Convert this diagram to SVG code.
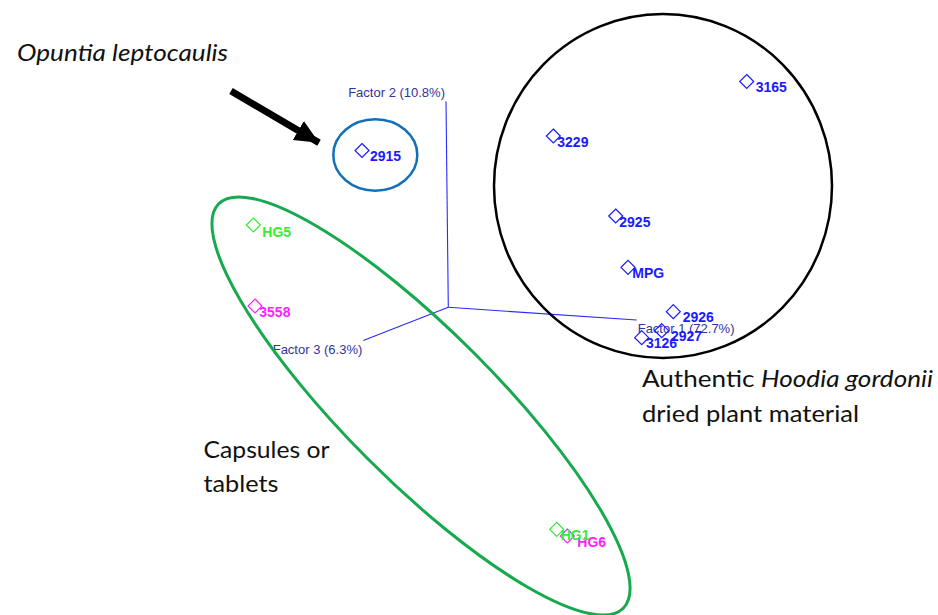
<svg xmlns="http://www.w3.org/2000/svg" xmlns:xlink="http://www.w3.org/1999/xlink" width="938" height="615" viewBox="0 0 938 615">
<style>
.big{font-family:Lato,"Liberation Sans",sans-serif;font-size:24px;fill:#111111}
.ax{font-family:"Liberation Sans",Arial,sans-serif;font-size:13px;fill:#333399}
.lab{font-family:"Liberation Sans",Arial,sans-serif;font-size:14px;font-weight:bold}
.axl{stroke:#2a2aff;stroke-width:1.1;fill:none}
.dm{fill:none;stroke-width:1.2}
.b{fill:#1a1aff;stroke:none}
.g{fill:#33ee33;stroke:none}
.m{fill:#ff22ff;stroke:none}
.b2{stroke:#1a1aff}
.g2{stroke:#33ee33}
.m2{stroke:#ff22ff}
</style>
<defs>
<path id="dia" d="M0,-7 L7,0 L0,7 L-7,0 Z"/>
<marker id="ah" markerUnits="userSpaceOnUse" markerWidth="26" markerHeight="24" refX="24" refY="11" orient="auto" viewBox="0 0 26 22">
<path d="M0,0 L24,11 L0,22 Z" fill="#000"/>
</marker>
</defs>
<rect width="938" height="615" fill="#ffffff"/>

<g id="axes">
<line class="axl" x1="448.3" y1="307.3" x2="446" y2="101.5"/>
<line class="axl" x1="448.3" y1="307.3" x2="636.7" y2="320"/>
<line class="axl" x1="448.3" y1="307.3" x2="363.3" y2="340.5"/>
<text class="ax" x="445" y="97.3" text-anchor="end">Factor 2 (10.8%)</text>
<text class="ax" x="637.7" y="332.7">Factor 1 (72.7%)</text>
<text class="ax" x="272.7" y="354">Factor 3 (6.3%)</text>
</g>

<g id="cluster-opuntia">
<ellipse cx="375.3" cy="155" rx="42" ry="35.7" fill="none" stroke="#1270b8" stroke-width="2.5"/>
</g>
<g id="cluster-hoodia">
<ellipse cx="663" cy="186" rx="169" ry="172" fill="none" stroke="#000" stroke-width="2.5"/>
</g>
<g id="cluster-capsules">
<ellipse cx="421" cy="406" rx="286" ry="75" transform="rotate(45 421 406)" fill="none" stroke="#17a94e" stroke-width="3"/>
</g>

<g id="p2915"><use href="#dia" class="dm b2" x="362" y="150.5"/><text class="lab b" x="370" y="160.7">2915</text></g>
<g id="p3165"><use href="#dia" class="dm b2" x="746.7" y="81.5"/><text class="lab b" x="755.7" y="92.3">3165</text></g>
<g id="p3229"><use href="#dia" class="dm b2" x="553.3" y="136"/><text class="lab b" x="557.3" y="147.3">3229</text></g>
<g id="p2925"><use href="#dia" class="dm b2" x="615.7" y="216"/><text class="lab b" x="619.3" y="227.3">2925</text></g>
<g id="pMPG"><use href="#dia" class="dm b2" x="628" y="267.3"/><text class="lab b" x="632.3" y="278.3">MPG</text></g>
<g id="p2926"><use href="#dia" class="dm b2" x="673.3" y="311.7"/><text class="lab b" x="682.7" y="322.3">2926</text></g>
<g id="p2927"><use href="#dia" class="dm b2" x="661.7" y="330.7"/><text class="lab b" x="671" y="340.7">2927</text></g>
<g id="p3126"><use href="#dia" class="dm b2" x="641.7" y="337.7"/><text class="lab b" x="646" y="348.3">3126</text></g>
<g id="pHG5"><use href="#dia" class="dm g2" x="253.3" y="225"/><text class="lab g" x="262.3" y="236.7">HG5</text></g>
<g id="p3558"><use href="#dia" class="dm m2" x="255" y="306"/><text class="lab m" x="259.3" y="317.3">3558</text></g>
<g id="pHG6"><use href="#dia" class="dm m2" x="567.3" y="536"/><text class="lab m" x="577.3" y="546.7">HG6</text></g>
<g id="pHG1"><use href="#dia" class="dm g2" x="556.7" y="529.3"/><text class="lab g" x="560.7" y="540">HG1</text></g>

<g id="connectors">
<line x1="231" y1="91" x2="319" y2="142.7" stroke="#000" stroke-width="7" marker-end="url(#ah)"/>
</g>

<g id="labels">
<text class="big" x="17" y="61" font-style="italic" textLength="211" lengthAdjust="spacingAndGlyphs">Opuntia leptocaulis</text>
<text class="big" x="642" y="387" textLength="291" lengthAdjust="spacingAndGlyphs">Authentic <tspan font-style="italic">Hoodia gordonii</tspan></text>
<text class="big" x="642" y="421.5" textLength="217" lengthAdjust="spacingAndGlyphs">dried plant material</text>
<text class="big" x="203.5" y="458" textLength="126" lengthAdjust="spacingAndGlyphs">Capsules or</text>
<text class="big" x="203.5" y="491.5" textLength="75" lengthAdjust="spacingAndGlyphs">tablets</text>
</g>
</svg>
